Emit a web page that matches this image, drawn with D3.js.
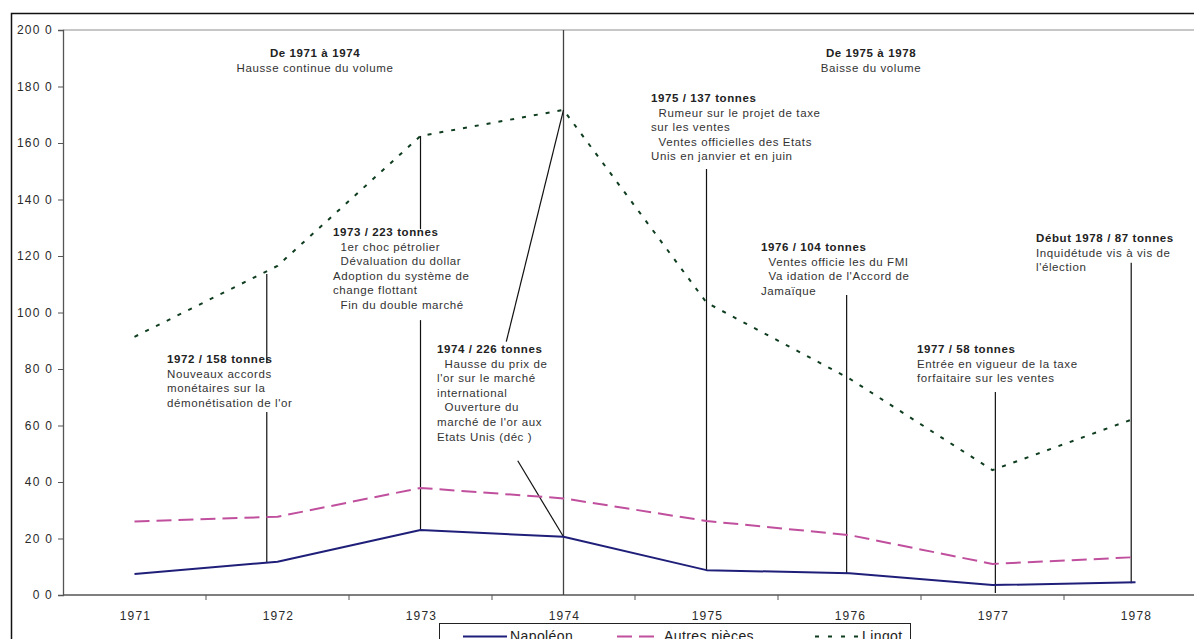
<!DOCTYPE html>
<html>
<head>
<meta charset="utf-8">
<script src="https://cdn.jsdelivr.net/npm/d3@7"></script>
<style>
  body { margin: 0; background: #fff; }
  svg { display: block; font-family: "Liberation Sans", Arial, sans-serif; }
</style>
</head>
<body>
<svg id="chart" width="1194" height="639"></svg>
<script>
// values (tonnes)
var years = [1971, 1972, 1973, 1974, 1975, 1976, 1977, 1978];
var napoleon = [7.4, 11.8, 23.0, 20.6, 8.8, 7.7, 3.5, 4.5];
var autresPieces = [26.0, 27.7, 37.9, 34.2, 26.2, 21.2, 11.0, 13.4];
var lingot = [91.4, 116.5, 162.5, 171.7, 103.5, 76.6, 44.2, 62.6];
var yTicks = [0, 20, 40, 60, 80, 100, 120, 140, 160, 180, 200];
var yTickLabels = ["0 0", "20 0", "40 0", "60 0", "80 0", "100 0", "120 0", "140 0", "160 0", "180 0", "200 0"];
var seriesNames = ["Napoléon", "Autres pièces", "Lingot"];

// leader lines, in year / tonnes
var leaders = [
	{ x1: 1971.925, v1: 113.6, x2: 1971.925, v2: 82.0 },
	{ x1: 1971.925, v1: 64.8, x2: 1971.925, v2: 11.7 },
	{ x1: 1973.0, v1: 162.5, x2: 1973.0, v2: 129.5 },
	{ x1: 1973.0, v1: 97.3, x2: 1973.0, v2: 23.0 },
	{ x1: 1973.6, v1: 89.7, x2: 1974.0, v2: 171.7 },
	{ x1: 1973.68, v1: 47.5, x2: 1974.0, v2: 20.6 },
	{ x1: 1975.0, v1: 150.8, x2: 1975.0, v2: 8.8 },
	{ x1: 1975.98, v1: 106.2, x2: 1975.98, v2: 7.8 },
	{ x1: 1977.02, v1: 71.9, x2: 1977.02, v2: 0.7 },
	{ x1: 1977.97, v1: 117.6, x2: 1977.97, v2: 4.2 }
];

var periodNotes = [
	["De 1971 à 1974", "Hausse continue du volume"],
	["De 1975 à 1978", "Baisse du volume"]
];
var eventNotes = [
	["1972 / 158 tonnes", "Nouveaux accords", "monétaires sur la", "démonétisation de l'or"],
	["1973 / 223 tonnes", "\u00a0\u00a01er choc pétrolier", "\u00a0\u00a0Dévaluation du dollar", "Adoption du système de", "change flottant", "\u00a0\u00a0Fin du double marché"],
	["1974 / 226 tonnes", "\u00a0\u00a0Hausse du prix de", "l'or sur le marché", "international", "\u00a0\u00a0Ouverture du", "marché de l'or aux", "Etats Unis (déc )"],
	["1975 / 137 tonnes", "\u00a0\u00a0Rumeur sur le projet de taxe", "sur les ventes", "\u00a0\u00a0Ventes officielles des Etats", "Unis en janvier et en juin"],
	["1976 / 104 tonnes", "\u00a0\u00a0Ventes officie les du FMI", "\u00a0\u00a0Va idation de l'Accord de", "Jamaïque"],
	["1977 / 58 tonnes", "Entrée en vigueur de la taxe", "forfaitaire sur les ventes"],
	["Début 1978 / 87 tonnes", "Inquidétude vis à vis de", "l'élection"]
];

var W = 1194, H = 639;
var plotLeft = 63, plotTop = 30, plotBottom = 595, step = 143;

var svg = d3.select("#chart");

var x = d3.scaleBand().domain(years).range([plotLeft, plotLeft + step * years.length]);
var xc = d3.scaleLinear().domain([1971, 1978])
	.range([x(1971) + x.bandwidth() / 2, x(1978) + x.bandwidth() / 2]);
var y = d3.scaleLinear().domain([0, 200]).range([plotBottom, plotTop]);

// outer frame (runs past the right and bottom edges like the source)
svg.append("rect")
	.attr("x", 11.5).attr("y", 13.5)
	.attr("width", W + 20).attr("height", H + 20)
	.attr("fill", "#fff").attr("stroke", "#111").attr("stroke-width", 1.5);

// plot area top border
svg.append("line")
	.attr("x1", plotLeft).attr("x2", W + 20)
	.attr("y1", y(200)).attr("y2", y(200))
	.attr("stroke", "#b4b4b4").attr("stroke-width", 1.5);

// y axis
var yAxis = svg.append("g")
	.attr("transform", "translate(" + plotLeft + ",0)")
	.call(d3.axisLeft(y).tickValues(yTicks).tickSize(5).tickPadding(5)
		.tickFormat(function(d, i) { return yTickLabels[i]; }));
yAxis.select(".domain").attr("stroke", "#555").attr("stroke-width", 1.3);
yAxis.selectAll(".tick line").attr("stroke", "#555");
yAxis.selectAll(".tick text")
	.attr("fill", "#2a2a2a").attr("font-size", 12)
	.attr("letter-spacing", "1.2px")
	.attr("font-family", "Liberation Sans, Arial, sans-serif");

// x axis: ticks on category boundaries, labels centred
var xAxis = svg.append("g")
	.attr("transform", "translate(0," + plotBottom + ")");
xAxis.append("line")
	.attr("x1", plotLeft).attr("x2", W + 20)
	.attr("stroke", "#555").attr("stroke-width", 1.3);
xAxis.selectAll(".xtick")
	.data(years)
	.enter().append("line")
	.attr("class", "xtick")
	.attr("x1", function(d) { return x(d) + x.bandwidth(); })
	.attr("x2", function(d) { return x(d) + x.bandwidth(); })
	.attr("y1", 0).attr("y2", 5)
	.attr("stroke", "#555");
xAxis.selectAll(".xlab")
	.data(years)
	.enter().append("text")
	.attr("class", "xlab")
	.attr("x", function(d) { return x(d) + x.bandwidth() / 2 + 1; })
	.attr("y", 25)
	.attr("text-anchor", "middle")
	.attr("font-size", 12)
	.attr("letter-spacing", "1.2px")
	.attr("fill", "#2a2a2a")
	.text(function(d) { return d; });

// leader lines
svg.append("line")
	.attr("x1", xc(1974)).attr("x2", xc(1974))
	.attr("y1", y(200)).attr("y2", y(0))
	.attr("stroke", "#444").attr("stroke-width", 1.3);
svg.selectAll(".leader")
	.data(leaders)
	.enter().append("line")
	.attr("class", "leader")
	.attr("x1", function(d) { return xc(d.x1); })
	.attr("y1", function(d) { return y(d.v1); })
	.attr("x2", function(d) { return xc(d.x2); })
	.attr("y2", function(d) { return y(d.v2); })
	.attr("stroke", "#111").attr("stroke-width", 1.2);

// series
var series = [
	{ name: seriesNames[0], values: napoleon, color: "#1f1f7a", dash: null },
	{ name: seriesNames[1], values: autresPieces, color: "#c0509e", dash: "15,7" },
	{ name: seriesNames[2], values: lingot, color: "#0f3d1f", dash: "4,8" }
];
var line = d3.line()
	.x(function(d, i) { return xc(years[i]); })
	.y(function(d) { return y(d); });

svg.selectAll(".series")
	.data(series)
	.enter().append("path")
	.attr("class", "series")
	.attr("d", function(d) { return line(d.values); })
	.attr("fill", "none")
	.attr("stroke", function(d) { return d.color; })
	.attr("stroke-width", 2)
	.attr("stroke-linejoin", "round")
	.attr("stroke-dasharray", function(d) { return d.dash; });

// annotation text
function block(lines, px, py, anchor) {
	var t = svg.append("text")
		.attr("font-size", 11.5)
		.attr("letter-spacing", "0.6px")
		.attr("fill", "#333")
		.attr("text-anchor", anchor || "start")
		.style("white-space", "pre");
	lines.forEach(function(s, i) {
		t.append("tspan")
			.attr("x", px)
			.attr("y", py + i * 14.6)
			.attr("font-weight", i === 0 ? "bold" : null)
			.attr("fill", i === 0 ? "#222" : null)
			.text(s);
	});
}
block(periodNotes[0], 315, 57, "middle");
block(periodNotes[1], 871, 57, "middle");
var notePos = [[167, 363], [333, 236], [437, 353], [651, 102], [761, 251], [917, 353], [1036, 242]];
eventNotes.forEach(function(n, i) { block(n, notePos[i][0], notePos[i][1]); });

// legend
var lg = svg.append("g");
lg.append("rect")
	.attr("x", 439.5).attr("y", 623.5)
	.attr("width", 471).attr("height", 40)
	.attr("fill", "#fff").attr("stroke", "#222");
var legendPos = [463, 617, 815];
series.forEach(function(s, i) {
	lg.append("line")
		.attr("x1", legendPos[i]).attr("x2", legendPos[i] + 44)
		.attr("y1", 636.5).attr("y2", 636.5)
		.attr("stroke", s.color).attr("stroke-width", 2)
		.attr("stroke-dasharray", i === 2 ? "4,9" : s.dash);
	lg.append("text")
		.attr("x", legendPos[i] + 47)
		.attr("y", 641)
		.attr("font-size", 14)
		.attr("letter-spacing", "0.4px")
		.attr("fill", "#222")
		.text(s.name);
});
</script>
</body>
</html>
